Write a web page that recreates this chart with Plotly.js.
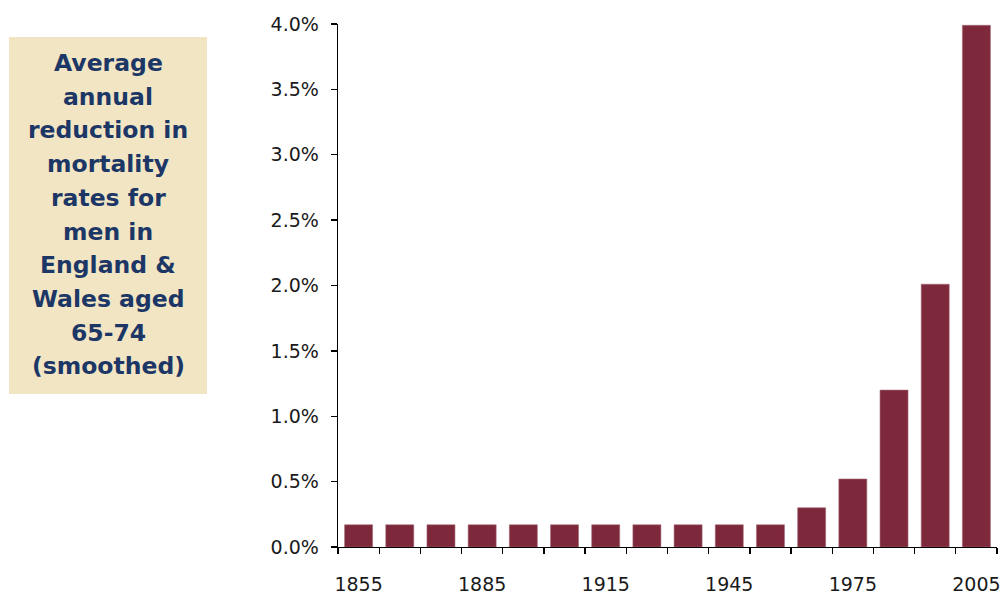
<!DOCTYPE html>
<html>
<head>
<meta charset="utf-8">
<script src="https://cdn.plot.ly/plotly-3.0.1.min.js"></script>
<style>html,body{margin:0;padding:0;background:#fff;}#chart{width:1003px;height:598px;}</style>
</head>
<body>
<div id="chart"></div>
<script>
const years = [1855,1865,1875,1885,1895,1905,1915,1925,1935,1945,1955,1965,1975,1985,1995,2005];
const reductions = [0.0017,0.0017,0.0017,0.0017,0.0017,0.0017,0.0017,0.0017,0.0017,0.0017,0.0017,0.0030,0.0052,0.0120,0.0201,0.0399];
const labelYears = [1855,1885,1915,1945,1975,2005];
const sideTitleLines = ["Average","annual","reduction in","mortality","rates for","men in","England &amp;","Wales aged","65-74","(smoothed)"];

const boundaries = years.map(y => y - 5).concat([years[years.length-1] + 5]);
const xr = [boundaries[0], boundaries[boundaries.length-1]];

const W = 1003, H = 598;
const m = {l:338, r:6, t:24, b:51};
const pw = W - m.l - m.r, ph = H - m.t - m.b;
const px = x => (x - m.l) / pw;
const py = y => (H - m.b - y) / ph;

const annotations = sideTitleLines.map((t, i) => ({
  text: t, xref:'paper', yref:'paper', x: px(108), y: py(63 + i*33.7),
  xanchor:'center', yanchor:'middle', showarrow:false,
  font:{family:'DejaVu Sans', size:23.5, color:'#1c3766', weight:'bold'}
}));

const trace = {
  type:'bar', x: years, y: reductions,
  marker:{color:'#7e283b', line:{color:'#a56a77', width:0.6}},
  hoverinfo:'x+y'
};

const layout = {
  width:W, height:H, margin:m,
  paper_bgcolor:'#ffffff', plot_bgcolor:'#ffffff',
  showlegend:false, bargap:0.32,
  font:{family:'DejaVu Sans', size:19, color:'#1a1a1a'},
  xaxis:{range:xr, tickmode:'array', tickvals:boundaries, ticks:'outside', ticklen:6, tickwidth:1.3, tickcolor:'#000',
         showticklabels:false, showline:true, linecolor:'#000', linewidth:1.3, showgrid:false, zeroline:false},
  xaxis2:{range:xr, overlaying:'x', anchor:'y', side:'bottom', tickmode:'array', tickvals:labelYears,
          ticktext:labelYears.map(String), ticks:'', showline:false, showgrid:false, zeroline:false,
          ticklabelstandoff:24, tickfont:{family:'DejaVu Sans', size:19, color:'#1a1a1a'}},
  yaxis:{range:[0,0.04], dtick:0.005, tickformat:'.1%', ticks:'outside', ticklen:6, tickwidth:1.3, tickcolor:'#000',
         showline:true, linecolor:'#000', linewidth:1.3, showgrid:false, zeroline:false, ticklabelstandoff:8,
         tickfont:{family:'DejaVu Sans', size:19, color:'#1a1a1a'}},
  shapes:[{type:'rect', xref:'paper', yref:'paper', x0:px(9), x1:px(207), y0:py(394), y1:py(37),
           fillcolor:'#f2e5c4', line:{width:0}, layer:'below'}],
  annotations: annotations
};

Plotly.newPlot('chart', [trace, {type:'scatter', x:[], y:[], xaxis:'x2', yaxis:'y', hoverinfo:'skip', showlegend:false}], layout, {displayModeBar:false, staticPlot:true});
</script>
</body>
</html>
